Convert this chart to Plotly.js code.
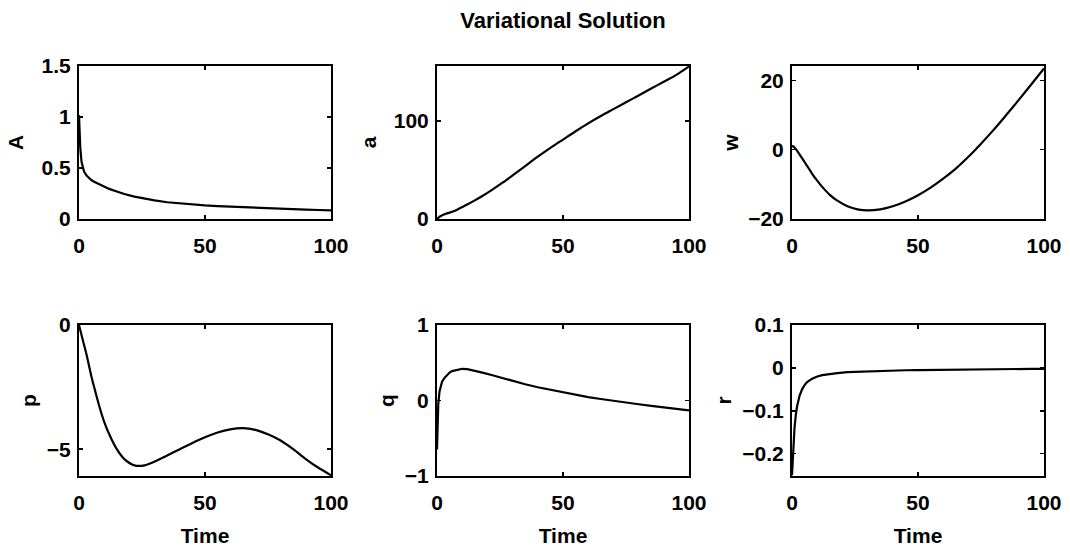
<!DOCTYPE html>
<html>
<head>
<meta charset="utf-8">
<script src="https://cdn.plot.ly/plotly-3.0.1.min.js"></script>
<style>html,body{margin:0;padding:0;background:#fff;}#chart{width:1070px;height:548px;}</style>
</head>
<body>
<div id="chart"></div>
<script>
// ---- data ----
const time = [0, 0.25, 0.5, 1, 1.5, 2, 3, 4, 5, 6, 8, 10, 12, 15, 18, 22, 26, 30, 35, 40, 45, 50, 55, 60, 65, 70, 75, 80, 85, 90, 95, 100];
const A = [1.02, 0.85, 0.70, 0.56, 0.50, 0.465, 0.425, 0.40, 0.38, 0.365, 0.34, 0.315, 0.295, 0.27, 0.245, 0.22, 0.20, 0.183, 0.164, 0.152, 0.142, 0.133, 0.126, 0.12, 0.114, 0.108, 0.103, 0.099, 0.095, 0.091, 0.088, 0.085];
const a = [0, 0.5, 1.2, 2.2, 3, 3.7, 4.8, 5.7, 6.5, 7.3, 9.5, 12.2, 14.8, 19, 23.5, 30, 37, 44.5, 54, 63.5, 72.5, 81, 89.5, 97.5, 105, 112, 119, 126, 133, 140, 147, 155.5];
const w = [1, 1, 0.9, 0.6, 0.2, -0.3, -1.4, -2.5, -3.6, -4.7, -7, -9, -10.8, -13.1, -14.8, -16.4, -17.3, -17.6, -17.3, -16.4, -15, -13.2, -11.0, -8.4, -5.5, -2.1, 1.7, 5.7, 10.0, 14.4, 18.9, 23.5];
const p = [0, -0.1, -0.2, -0.4, -0.6, -0.8, -1.2, -1.65, -2.1, -2.5, -3.25, -3.9, -4.4, -5.0, -5.4, -5.65, -5.65, -5.5, -5.25, -5.0, -4.75, -4.52, -4.33, -4.2, -4.15, -4.22, -4.4, -4.65, -5.0, -5.4, -5.75, -6.05];
const q = [-0.65, -0.3, -0.05, 0.12, 0.2, 0.25, 0.3, 0.34, 0.37, 0.39, 0.41, 0.42, 0.415, 0.395, 0.37, 0.335, 0.295, 0.255, 0.215, 0.175, 0.14, 0.105, 0.075, 0.045, 0.02, -0.005, -0.03, -0.05, -0.07, -0.09, -0.11, -0.13];
const r = [-0.25, -0.22, -0.18, -0.14, -0.11, -0.09, -0.065, -0.05, -0.04, -0.033, -0.025, -0.02, -0.017, -0.014, -0.012, -0.010, -0.009, -0.008, -0.007, -0.006, -0.0055, -0.005, -0.0045, -0.004, -0.0037, -0.0034, -0.0031, -0.0029, -0.0027, -0.0025, -0.0023, -0.0022];

const seriesNames = ["A", "a", "w", "p", "q", "r"];
const xTicks = [0, 50, 100];
const yTicksA = [0, 0.5, 1, 1.5];
const yTicks_a = [0, 100];
const yTicksW = [-20, 0, 20];
const yTicksP = [-5, 0];
const yTicksQ = [-1, 0, 1];
const yTicksR = [-0.2, -0.1, 0, 0.1];
const xLabel = "Time";
const chartTitle = "Variational Solution";

// ---- layout ----
const W = 1070, H = 548;
const series = [A, a, w, p, q, r];
const yTicks = [yTicksA, yTicks_a, yTicksW, yTicksP, yTicksQ, yTicksR];
const yRanges = [[0, 1.5], [0, 156], [-20.1, 24.2], [-6.08, 0], [-1, 1], [-0.252, 0.1]];
const yStandoff = [12, 11, 4, 4, 4, 5];
const smooth = [false, true, true, true, false, false];
const colPx = [[79, 331], [437, 689], [792, 1044]];
const rowPx = [[66, 219], [325, 476]];

const font = "Liberation Sans, Arial, Helvetica, sans-serif";
const FS = 21;
const traces = [];
const layout = {
  width: W, height: H,
  margin: {l: 0, r: 0, t: 0, b: 0, autoexpand: false},
  paper_bgcolor: "#fff", plot_bgcolor: "#fff",
  showlegend: false,
  font: {family: font, color: "#000"},
  title: {text: chartTitle, x: 563 / W, xanchor: "center", xref: "paper", y: 1 - 20 / H, yanchor: "middle", yref: "container",
          font: {family: font, size: 22, weight: "bold", color: "#000"}}
};

for (let k = 0; k < 6; k++) {
  const row = Math.floor(k / 3), col = k % 3;
  const sfx = k === 0 ? "" : String(k + 1);
  traces.push({
    x: time, y: series[k], type: "scatter", mode: "lines",
    line: {color: "#000", width: 2.2, shape: smooth[k] ? "spline" : "linear", smoothing: 0.8},
    xaxis: "x" + sfx, yaxis: "y" + sfx, hoverinfo: "skip"
  });
  const common = {
    showline: true, linecolor: "#000", linewidth: 2, mirror: "ticks",
    ticks: "inside", ticklen: 4, tickwidth: 1.5, tickcolor: "#000",
    showgrid: false, zeroline: false, automargin: false,
    tickfont: {family: font, size: FS, weight: "bold", color: "#000"}
  };
  layout["xaxis" + sfx] = Object.assign({}, common, {
    domain: [colPx[col][0] / W, colPx[col][1] / W],
    range: [0, 100], tickmode: "array", tickvals: xTicks,
    anchor: "y" + sfx, ticklabelstandoff: 7,
    title: row === 1 ? {text: xLabel, standoff: 15, font: {family: font, size: FS, weight: "bold", color: "#000"}} : {text: ""}
  });
  layout["yaxis" + sfx] = Object.assign({}, common, {
    domain: [1 - rowPx[row][1] / H, 1 - rowPx[row][0] / H],
    range: yRanges[k], tickmode: "array", tickvals: yTicks[k],
    anchor: "x" + sfx, ticklabelstandoff: 2,
    title: {text: seriesNames[k], standoff: yStandoff[k], font: {family: font, size: FS, weight: "bold", color: "#000"}}
  });
}

Plotly.newPlot("chart", traces, layout, {staticPlot: true, displayModeBar: false});
</script>
</body>
</html>
